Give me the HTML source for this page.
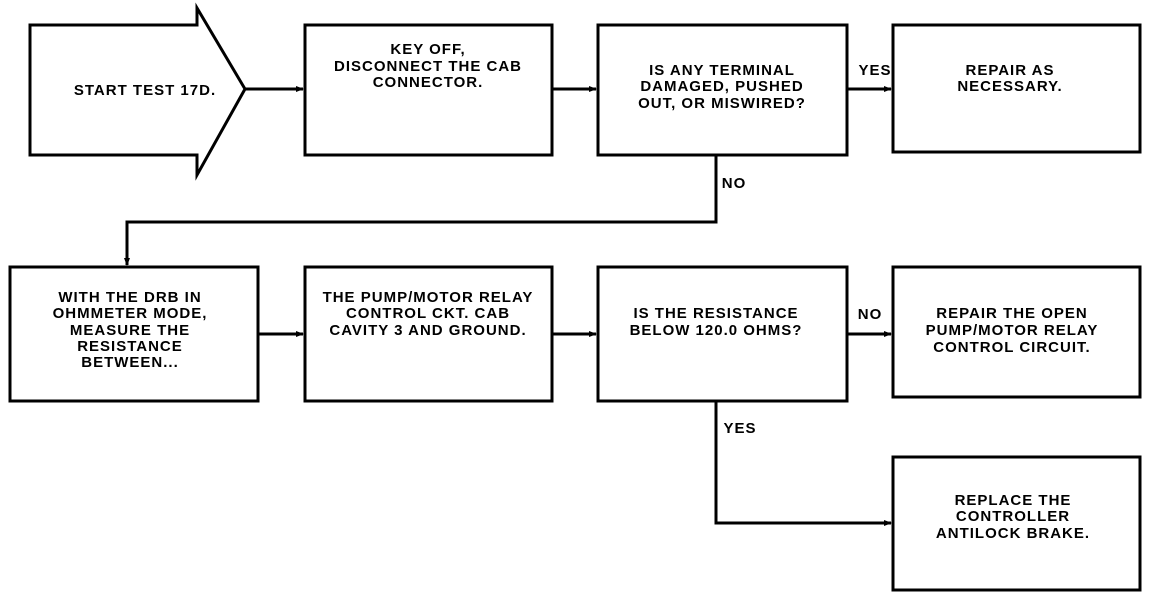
<!DOCTYPE html>
<html><head><meta charset="utf-8"><style>
html,body{margin:0;padding:0;background:#fff}
svg{display:block}
text{font-family:"Liberation Sans",sans-serif;font-size:15px;font-weight:bold;letter-spacing:1px;fill:#000;text-anchor:middle}
</style></head><body>
<svg width="1152" height="596" viewBox="0 0 1152 596" xmlns="http://www.w3.org/2000/svg">
<defs><marker id="a" markerWidth="8" markerHeight="8" refX="7" refY="4" orient="auto" markerUnits="userSpaceOnUse"><path d="M0,1 L8,4 L0,7 Z" fill="#000"/></marker></defs>
<g fill="none" stroke="#000" stroke-width="3">
<path d="M30,25 H197 V8 L245,89 L197,175 V155 H30 Z"/>
<rect x="305" y="25" width="247" height="130"/>
<rect x="598" y="25" width="249" height="130"/>
<rect x="893" y="25" width="247" height="127"/>
<rect x="10" y="267" width="248" height="134"/>
<rect x="305" y="267" width="247" height="134"/>
<rect x="598" y="267" width="249" height="134"/>
<rect x="893" y="267" width="247" height="130"/>
<rect x="893" y="457" width="247" height="133"/>
<path d="M245,89 H303" marker-end="url(#a)"/>
<path d="M552,89 H596" marker-end="url(#a)"/>
<path d="M847,89 H891" marker-end="url(#a)"/>
<path d="M716,155 V222 H127 V265" marker-end="url(#a)"/>
<path d="M258,334 H303" marker-end="url(#a)"/>
<path d="M552,334 H596" marker-end="url(#a)"/>
<path d="M847,334 H891" marker-end="url(#a)"/>
<path d="M716,401 V523 H891" marker-end="url(#a)"/>
</g>
<text x="145" y="95">START TEST 17D.</text>
<text x="428" y="54">KEY OFF,</text>
<text x="428" y="71">DISCONNECT THE CAB</text>
<text x="428" y="87">CONNECTOR.</text>
<text x="722" y="75">IS ANY TERMINAL</text>
<text x="722" y="91">DAMAGED, PUSHED</text>
<text x="722" y="108">OUT, OR MISWIRED?</text>
<text x="1010" y="75">REPAIR AS</text>
<text x="1010" y="91">NECESSARY.</text>
<text x="875" y="75">YES</text>
<text x="734" y="188">NO</text>
<text x="130" y="302">WITH THE DRB IN</text>
<text x="130" y="318">OHMMETER MODE,</text>
<text x="130" y="335">MEASURE THE</text>
<text x="130" y="351">RESISTANCE</text>
<text x="130" y="367">BETWEEN...</text>
<text x="428" y="302">THE PUMP/MOTOR RELAY</text>
<text x="428" y="318">CONTROL CKT. CAB</text>
<text x="428" y="335">CAVITY 3 AND GROUND.</text>
<text x="716" y="318">IS THE RESISTANCE</text>
<text x="716" y="335">BELOW 120.0 OHMS?</text>
<text x="870" y="319">NO</text>
<text x="1012" y="318">REPAIR THE OPEN</text>
<text x="1012" y="335">PUMP/MOTOR RELAY</text>
<text x="1012" y="352">CONTROL CIRCUIT.</text>
<text x="740" y="433">YES</text>
<text x="1013" y="505">REPLACE THE</text>
<text x="1013" y="521">CONTROLLER</text>
<text x="1013" y="538">ANTILOCK BRAKE.</text>
</svg>
</body></html>
